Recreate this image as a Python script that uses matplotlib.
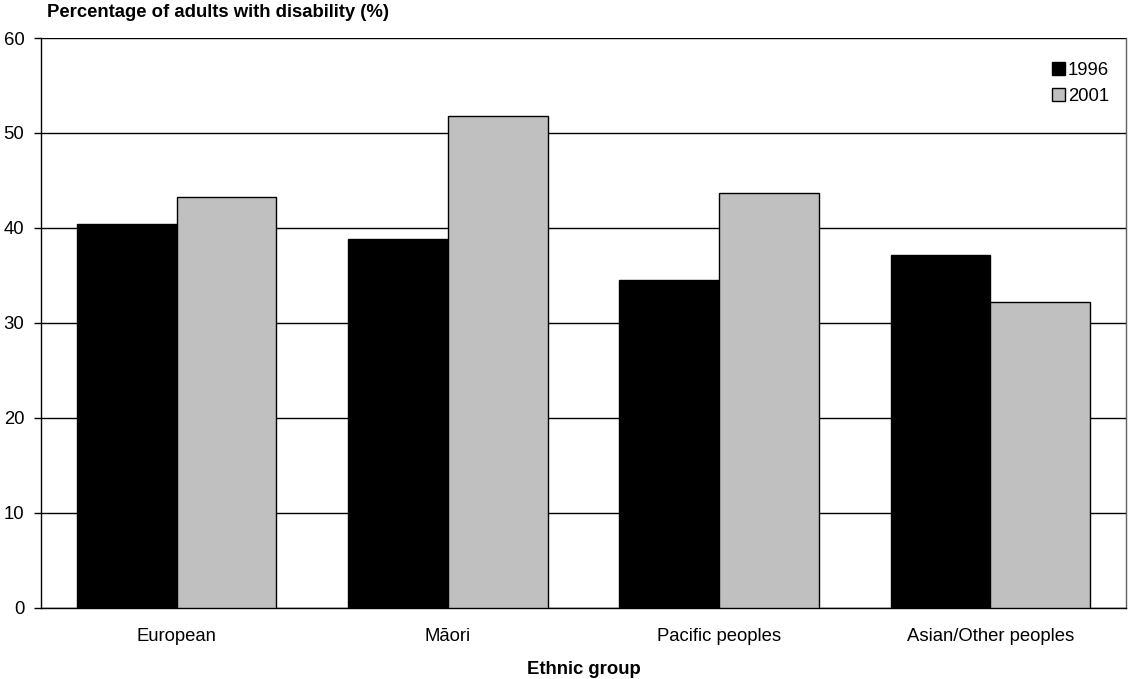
import matplotlib
matplotlib.use("Agg")
import matplotlib.pyplot as plt
import numpy as np

plt.rcParams['font.family'] = ['Liberation Sans', 'DejaVu Sans']

categories = ["European", "Māori", "Pacific peoples", "Asian/Other peoples"]
years = ["1996", "2001"]
values_1996 = [40.4, 38.8, 34.5, 37.1]
values_2001 = [43.2, 51.8, 43.7, 32.2]
y_ticks = [0, 10, 20, 30, 40, 50, 60]

FS = 13.3

fig = plt.figure(figsize=(11.28, 6.79), dpi=100)
ax = fig.add_axes([0.0363, 0.1053, 0.9620, 0.8387])

x = np.arange(len(categories))
width = 0.368
ax.bar(x - width / 2, values_1996, width, color="black", edgecolor="black",
       linewidth=1.0, label=years[0], zorder=3)
ax.bar(x + width / 2, values_2001, width, color="#c0c0c0", edgecolor="black",
       linewidth=1.0, label=years[1], zorder=3)

ax.set_xlim(-0.5, len(categories) - 0.5)
ax.set_ylim(0, 60)
ax.set_yticks(y_ticks)
ax.set_xticks(x)
ax.set_xticklabels(categories, fontsize=FS)
ax.tick_params(axis="x", length=0, pad=14.5)
ax.tick_params(axis="y", length=5, width=1, labelsize=FS, pad=7)

ax.yaxis.grid(True, color="black", linewidth=1.0, zorder=0)
ax.set_axisbelow(True)

for side in ["left", "bottom"]:
    ax.spines[side].set_color("black")
    ax.spines[side].set_linewidth(1.0)
ax.spines["top"].set_visible(False)
ax.spines["right"].set_color("#606060")
ax.spines["right"].set_linewidth(1.0)

ax.set_xlabel("Ethnic group", fontsize=FS, fontweight="bold", labelpad=12)
fig.text(0.042, 0.982, "Percentage of adults with disability (%)", fontsize=FS,
         fontweight="bold", ha="left", va="center")

leg = ax.legend(loc="upper right", bbox_to_anchor=(0.991, 0.9715), frameon=False,
                fontsize=FS, handlelength=0.72, handleheight=0.72,
                handletextpad=0.15, labelspacing=0.5, borderaxespad=0)

fig.savefig("out.png", dpi=100)
